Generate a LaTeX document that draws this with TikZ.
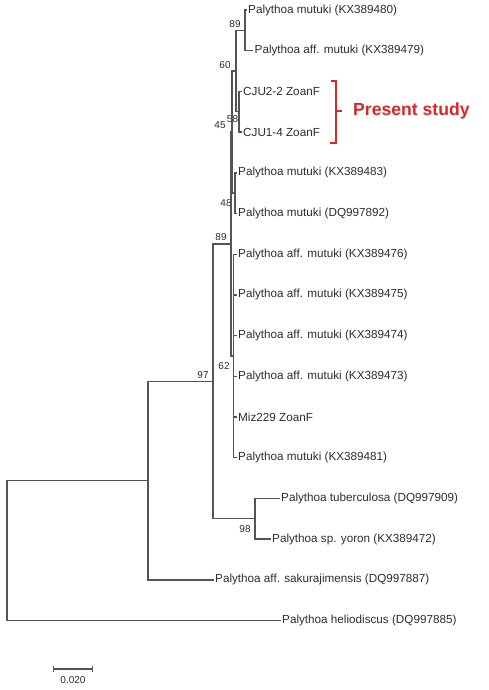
\documentclass[tikz,border=0pt]{standalone}
\usepackage{fontspec}
\setmainfont{Liberation Sans}
\usetikzlibrary{positioning,arrows.meta}
\definecolor{treegray}{RGB}{85,85,85}
\definecolor{textgray}{RGB}{45,45,45}
\definecolor{studyred}{RGB}{214,40,40}
\tikzset{
branch/.style={draw=treegray, line width=1.4pt},
taxon/.style={anchor=west, inner sep=1.5pt, text=textgray, font=\fontsize{11.7}{14}\selectfont},
boot/.style={inner sep=0pt, text=textgray, font=\fontsize{10}{12}\selectfont},
study/.style={anchor=west, inner sep=0pt, text=studyred, font=\fontsize{17.6}{20}\selectfont\bfseries},
bracket/.style={draw=studyred, line width=1.8pt},
}
\begin{document}
\begin{tikzpicture}[x=1pt, y=-1pt]
    \useasboundingbox (0,0) rectangle (488,690);

    \node[taxon] (KX389480) at(246.5, 10)  {Palythoa mutuki (KX389480)};
    \node[taxon] (KX389479) at(253, 50.7)  {Palythoa aff. mutuki (KX389479)};
    \node[taxon] (CJU2_2) at(241.5, 91.4)  {CJU2-2 ZoanF};
    \node[taxon] (CJU1_4) at(241.5, 132.1)  {CJU1-4 ZoanF};
    \node[taxon] (KX389483) at(236.5, 172.8)  {Palythoa mutuki (KX389483)};
    \node[taxon] (DQ997892) at(236.5, 213.5)  {Palythoa mutuki (DQ997892)};
    \node[taxon] (KX389476) at(236.5, 254.2)  {Palythoa aff. mutuki (KX389476)};
    \node[taxon] (KX389475) at(236.5, 294.9)  {Palythoa aff. mutuki (KX389475)};
    \node[taxon] (KX389474) at(236.5, 335.6)  {Palythoa aff. mutuki (KX389474)};
    \node[taxon] (KX389473) at(236.5, 376.3)  {Palythoa aff. mutuki (KX389473)};
    \node[taxon] (MIZ229) at(236.5, 417)  {Miz229 ZoanF};
    \node[taxon] (KX389481) at(236.5, 457.7)  {Palythoa mutuki (KX389481)};
    \node[taxon] (DQ997909) at(279.5, 498.4)  {Palythoa tuberculosa (DQ997909)};
    \node[taxon] (KX389472) at(270.5, 539.1)  {Palythoa sp. yoron (KX389472)};
    \node[taxon] (DQ997887) at(213.5, 579.8)  {Palythoa aff. sakurajimensis (DQ997887)};
    \node[taxon] (DQ997885) at(280.5, 620.5)  {Palythoa heliodiscus (DQ997885)};

    \coordinate (NODE_89_A) at(245, 30.35);
    \coordinate (NODE_58) at(239, 111.75);
    \coordinate (NODE_60) at(236, 71);
    \coordinate (NODE_48) at(235, 193.15);
    \coordinate (NODE_45) at(232, 132);
    \coordinate (NODE_62) at(233.5, 356);
    \coordinate (NODE_89_B) at(231, 244);
    \coordinate (NODE_98) at(255, 518.75);
    \coordinate (NODE_97) at(213, 381.4);
    \coordinate (NODE_OUT) at(148, 480.6);
    \coordinate (ROOT) at(7, 550.5);

    \node[boot] (B_89_A) at(235, 24)  {89};
    \node[boot] (B_60) at(225, 65)  {60};
    \node[boot] (B_58) at(232.5, 119)  {58};
    \node[boot] (B_45) at(220, 125)  {45};
    \node[boot] (B_48) at(226, 203)  {48};
    \node[boot] (B_89_B) at(221, 237)  {89};
    \node[boot] (B_62) at(224, 366)  {62};
    \node[boot] (B_97) at(203, 375)  {97};
    \node[boot] (B_98) at(245, 529)  {98};

    \draw[branch] (NODE_89_A) |- (KX389480.west);
    \draw[branch] (NODE_89_A) |- (KX389479.west);
    \draw[branch] (NODE_58) |- (CJU2_2.west);
    \draw[branch] (NODE_58) |- (CJU1_4.west);
    \draw[branch] (NODE_60) |- (NODE_89_A);
    \draw[branch] (NODE_60) |- (NODE_58);
    \draw[branch] (NODE_48) |- (KX389483.west);
    \draw[branch] (NODE_48) |- (DQ997892.west);
    \draw[branch] (NODE_45) |- (NODE_60);
    \draw[branch] (NODE_45) |- (NODE_48);
    \foreach \t in {KX389476,KX389475,KX389474,KX389473,MIZ229,KX389481}
        \draw[branch] (NODE_62) |- (\t.west);
    \draw[branch] (NODE_89_B) |- (NODE_45);
    \draw[branch] (NODE_89_B) |- (NODE_62);
    \draw[branch] (NODE_98) |- (DQ997909.west);
    \draw[branch] (NODE_98) |- (KX389472.west);
    \draw[branch] (NODE_97) |- (NODE_89_B);
    \draw[branch] (NODE_97) |- (NODE_98);
    \draw[branch] (NODE_OUT) |- (NODE_97);
    \draw[branch] (NODE_OUT) |- (DQ997887.west);
    \draw[branch] (ROOT) |- (NODE_OUT);
    \draw[branch] (ROOT) |- (DQ997885.west);

    \node[study] (STUDY) at(353, 111)  {Present study};
    \coordinate (BR_TOP) at(331, 81);
    \coordinate (BR_BOT) at(330, 143);
    \coordinate (BR_MID) at(336, 111);
    \draw[bracket] (BR_TOP) -| (BR_MID) |- (BR_BOT);
    \draw[bracket] (BR_MID) -- ++(6,0);

    \coordinate (SCALE_L) at(53, 669);
    \coordinate (SCALE_R) at(93, 669);
    \draw[branch, {Bar[width=6pt]}-{Bar[width=6pt]}] (SCALE_L) -- (SCALE_R);
    \node[boot] (SCALE) at(73, 680)  {0.020};
\end{tikzpicture}
\end{document}
